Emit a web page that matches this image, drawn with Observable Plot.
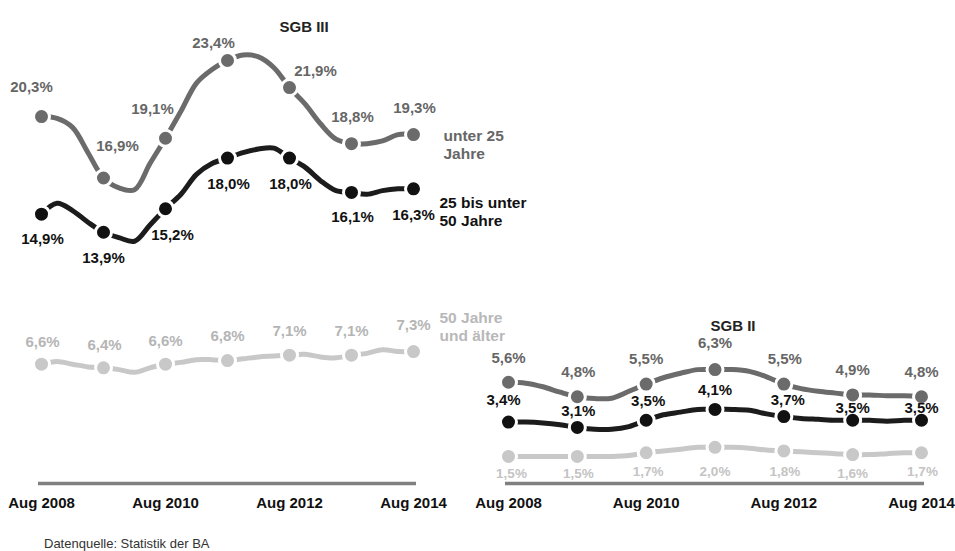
<!DOCTYPE html>
<html>
<head>
<meta charset="utf-8">
<script src="https://cdn.jsdelivr.net/npm/d3@7"></script>
<script src="https://cdn.jsdelivr.net/npm/@observablehq/plot@0.6"></script>
<style>
  body { margin: 0; background: #fff; font-family: "Liberation Sans", Arial, sans-serif; }
  #chart { position: relative; width: 955px; height: 551px; overflow: hidden; }
  #source { position: absolute; left: 44px; top: 536px; font-size: 13px; color: #333; }
</style>
</head>
<body>
<div id="chart"></div>
<script>
// ---------- data ----------
const months = [0,3,6,9,12,15,18,21,24,27,30,33,36,39,42,45,48,51,54,57,60,63,66,69,72];
const tickMonths = [0,24,48,72];
const tickLabels = ["Aug 2008","Aug 2010","Aug 2012","Aug 2014"];

const sgb3Under25 = [20.3,20.2,19.7,18.3,16.9,16.35,16.25,17.7,19.1,20.6,22.15,22.9,23.4,23.7,23.6,23.0,21.9,21.0,19.9,19.05,18.8,18.8,18.95,19.3,19.3];
const sgb3Mid     = [14.9,15.5,15.1,14.45,13.9,13.6,13.4,14.3,15.2,16.0,17.1,17.7,18.0,18.3,18.5,18.55,18.0,17.5,16.75,16.2,16.1,16.0,16.2,16.3,16.3];
const sgb3Old     = [6.6,6.75,6.6,6.45,6.4,6.3,6.15,6.4,6.6,6.7,6.85,6.85,6.8,6.9,7.0,7.05,7.1,7.15,7.0,6.95,7.1,7.2,7.4,7.3,7.3];

const sgb2Under25 = [5.6,5.55,5.35,5.05,4.8,4.7,4.72,5.1,5.5,5.85,6.1,6.3,6.3,6.3,6.2,5.9,5.5,5.25,5.1,5.0,4.9,4.9,4.85,4.85,4.8];
const sgb2Mid     = [3.4,3.4,3.35,3.25,3.1,3.0,3.0,3.15,3.5,3.8,3.95,4.1,4.1,4.1,4.05,3.85,3.7,3.6,3.55,3.5,3.5,3.5,3.45,3.5,3.5];
const sgb2Old     = [1.5,1.5,1.5,1.5,1.5,1.5,1.5,1.55,1.7,1.8,1.9,2.0,2.0,2.0,1.95,1.85,1.8,1.75,1.7,1.65,1.6,1.6,1.65,1.7,1.7];

const seriesNames = ["unter 25\nJahre", "25 bis unter\n50 Jahre", "50 Jahre\nund älter"];
const panelTitles = ["SGB III", "SGB II"];
const sourceText = "Datenquelle: Statistik der BA";

// ---------- styling / layout ----------
const W = 955, H = 520;
const FONT = "'Liberation Sans', Arial, sans-serif";
const styles = {
  u25: {line: "#6b6b6b", dot: "#6b6b6b", label: "#666666"},
  mid: {line: "#1c1c1c", dot: "#111111", label: "#111111"},
  old: {line: "#c8c8c8", dot: "#c8c8c8", label: "#b5b5b5"}
};
const fmt = v => v.toFixed(1).replace(".", ",") + "%";
const toRows = vals => months.map((m, i) => ({m, v: vals[i]}));
const yearly = rows => rows.filter(d => d.m % 12 === 0);

function seriesMarks(vals, st, offsets, labelSize, labelFill) {
  const rows = toRows(vals);
  const pts = yearly(rows);
  const marks = [
    Plot.line(rows, {x: "m", y: "v", stroke: st.line, strokeWidth: 5, curve: "catmull-rom"}),
    Plot.dot(pts, {x: "m", y: "v", r: 8, fill: st.dot, stroke: "white", strokeWidth: 3})
  ];
  pts.forEach((d, i) => {
    marks.push(Plot.text([d], {x: "m", y: "v", text: d => fmt(d.v),
      dx: offsets[i][0], dy: offsets[i][1], fill: labelFill || st.label,
      fontSize: labelSize || 15, fontWeight: "bold"}));
  });
  return marks;
}

function panel(opts) {
  return Plot.plot({
    width: W, height: H,
    marginLeft: opts.left, marginRight: W - opts.right,
    marginTop: 60, marginBottom: 37,
    x: {domain: [0, 72]},
    y: {domain: [0, 23.4], axis: null},
    style: {position: "absolute", left: "0px", top: "0px", background: "transparent", fontFamily: FONT, overflow: "visible"},
    marks: [
      Plot.ruleY([0], {stroke: "#808080", strokeWidth: 3.5, insetLeft: -3, insetRight: -3}),
      Plot.axisX(tickMonths, {tickSize: 0, tickPadding: 14, tickFormat: d => tickLabels[tickMonths.indexOf(d)],
        fontSize: 15, fontWeight: "bold", fill: "#111", label: null}),
      Plot.text([opts.title], {frameAnchor: "top-left", dx: opts.titleDx, dy: opts.titleDy,
        fontSize: 15, fontWeight: "bold", fill: "#222"}),
      ...opts.marks
    ]
  });
}

const chart = document.getElementById("chart");

// SGB III panel
const leftMarks = [
  ...seriesMarks(sgb3Old, styles.old, [[1,-22.5],[1,-23],[0,-23.5],[0,-24],[0,-23.5],[0,-23.5],[0,-26]]),
  ...seriesMarks(sgb3Under25, styles.u25, [[-10,-29],[14,-32],[-13,-29],[-14,-17.5],[26,-16],[1,-26],[1,-26]]),
  ...seriesMarks(sgb3Mid, styles.mid, [[1,25],[0,26],[7,26],[1,26],[1,26],[1,25],[0,26]]),
  Plot.text([{m: 72, v: sgb3Under25[24]}], {x: "m", y: "v", text: () => seriesNames[0], textAnchor: "start",
    dx: 30, dy: 10, lineHeight: 1.16, fontSize: 15.5, fontWeight: "bold", fill: "#666"}),
  Plot.text([{m: 72, v: sgb3Mid[24]}], {x: "m", y: "v", text: () => seriesNames[1], textAnchor: "start",
    dx: 26, dy: 22, lineHeight: 1.16, fontSize: 15.5, fontWeight: "bold", fill: "#111"}),
  Plot.text([{m: 72, v: sgb3Old[24]}], {x: "m", y: "v", text: () => seriesNames[2], textAnchor: "start",
    dx: 26, dy: -25, lineHeight: 1.16, fontSize: 15.5, fontWeight: "bold", fill: "#b8b8b8"})
];
chart.appendChild(panel({left: 41, right: 413, title: panelTitles[0], titleDx: 279 - 41, titleDy: 21 - 60, marks: leftMarks}));

// SGB II panel
const rightMarks = [
  ...seriesMarks(sgb2Old, styles.old, [[3,17],[1,17],[2,19],[0,24],[1,21],[0,19.5],[1,19]], 13.5, "#c4c4c4"),
  ...seriesMarks(sgb2Under25, styles.u25, [[0,-24],[1,-25],[0,-25],[0,-26],[1,-25],[0,-25],[0,-25]]),
  ...seriesMarks(sgb2Mid, styles.mid, [[-5,-21.5],[1,-16],[2,-19],[0,-19],[4,-16],[0,-12],[0,-12]])
];
chart.appendChild(panel({left: 508, right: 921, title: panelTitles[1], titleDx: 710 - 508, titleDy: 320 - 60, marks: rightMarks}));

const src = document.createElement("div");
src.id = "source";
src.textContent = sourceText;
chart.appendChild(src);
</script>
</body>
</html>
